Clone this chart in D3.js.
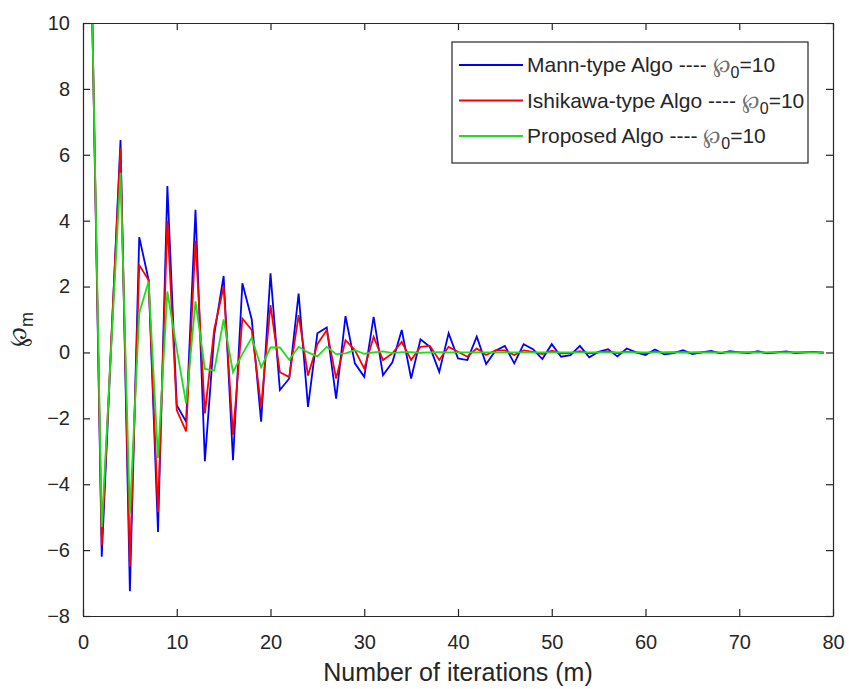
<!DOCTYPE html>
<html>
<head>
<meta charset="utf-8">
<script src="https://cdn.jsdelivr.net/npm/d3@7"></script>
<style>
    body { margin: 0; background: #ffffff; }
    svg text { font-family: Arial, "Liberation Sans", Helvetica, sans-serif; fill: #262626; }
</style>
</head>
<body>
<div id="chart"></div>
<script>

// iteration index m = 1 .. 79
var iterations = d3.range(1, 80);

var mannValues = [
    10, -6.2, 0.2, 6.45, -7.25, 3.5, 2.2, -5.45, 5.05, -1.6,
    -2.1, 4.33, -3.3, 0.55, 2.32, -3.27, 2.1, 1.0, -2.1, 2.4,
    -1.14, -0.79, 1.79, -1.65, 0.58, 0.76, -1.4, 1.1, -0.33, -0.74,
    1.08, -0.69, -0.3, 0.68, -0.79, 0.4, 0.17, -0.59, 0.58, -0.18,
    -0.23, 0.48, -0.35, 0.05, 0.2, -0.33, 0.25, 0.1, -0.2, 0.25,
    -0.13, -0.08, 0.2, -0.15, 0.02, 0.1, -0.12, 0.12, 0.0, -0.08,
    0.09, -0.06, -0.02, 0.07, -0.05, 0.0, 0.05, -0.03, 0.04, 0.0,
    -0.02, 0.04, -0.03, 0.0, 0.03, -0.02, 0.0, 0.02, -0.01
];

var ishikawaValues = [
    10, -5.85, 0.3, 6.2, -6.5, 2.65, 2.2, -4.85, 4.0, -1.75,
    -2.4, 3.4, -1.85, 0.7, 2.0, -2.5, 1.03, 0.68, -1.65, 1.44,
    -0.6, -0.75, 1.13, -0.7, 0.25, 0.68, -0.79, 0.37, 0.07, -0.49,
    0.48, -0.23, -0.03, 0.32, -0.23, 0.17, 0.2, -0.23, 0.17, 0.02,
    -0.13, 0.12, -0.08, 0.06, 0.06, -0.08, 0.06, 0.02, -0.05, 0.05,
    -0.03, -0.02, 0.04, -0.03, 0.0, 0.03, -0.02, 0.02, 0.0, -0.02,
    0.02, -0.01, 0.0, 0.01, -0.01, 0.0, 0.01, -0.01, 0.01, 0.0,
    0.0, 0.01, -0.01, 0.0, 0.0, 0.0, 0.0, 0.0, 0.0
];

var proposedValues = [
    10, -5.3, 0.1, 5.45, -4.9, 1.2, 2.15, -3.2, 1.85, 0.1,
    -1.55, 1.55, -0.5, -0.55, 1.0, -0.6, -0.05, 0.45, -0.45, 0.15,
    0.15, -0.22, 0.17, 0.0, -0.12, 0.17, -0.05, -0.03, 0.07, -0.04,
    0.0, 0.03, -0.02, 0.01, 0.01, -0.01, 0.0, 0.01, 0.0, 0.0,
    0.0, 0.0, 0.0, 0.0, 0.0, 0.0, 0.0, 0.0, 0.0, 0.0,
    0.0, 0.0, 0.0, 0.0, 0.0, 0.0, 0.0, 0.0, 0.0, 0.0,
    0.0, 0.0, 0.0, 0.0, 0.0, 0.0, 0.0, 0.0, 0.0, 0.0,
    0.0, 0.0, 0.0, 0.0, 0.0, 0.0, 0.0, 0.0, 0.0
];

var seriesNames = ['Mann-type Algo', 'Ishikawa-type Algo', 'Proposed Algo'];
var seriesColors = ['#0000ff', '#ff0000', '#1fdc1f'];

var xTicks = [0, 10, 20, 30, 40, 50, 60, 70, 80];
var yTicks = [-8, -6, -4, -2, 0, 2, 4, 6, 8, 10];

var width = 849;
var height = 689;
var margin = {top: 23, right: 16, bottom: 73, left: 83};
var axisColor = '#262626';

var svg = d3.select('#chart').append('svg')
    .attr('width', width)
    .attr('height', height);

var x = d3.scaleLinear().domain([0, 80]).range([margin.left, width - margin.right]);
var y = d3.scaleLinear().domain([-8, 10]).range([height - margin.bottom, margin.top]);

// series, drawn in plot order so green ends on top
var seriesValues = [mannValues, ishikawaValues, proposedValues];

var line = d3.line()
    .x(function(d) { return x(d.m); })
    .y(function(d) { return y(d.v); });

seriesValues.forEach(function(values, i) {
    var points = iterations.map(function(m, j) { return {m: m, v: values[j]}; });
    svg.append('path')
        .datum(points)
        .attr('fill', 'none')
        .attr('stroke', seriesColors[i])
        .attr('stroke-width', 1.8)
        .attr('stroke-linejoin', 'miter')
        .attr('d', line);
});

// axes, ticks pointing inward on every side
var tickLen = 7;

var bottomAxis = svg.append('g')
    .attr('transform', 'translate(0,' + y(-8) + ')')
    .call(d3.axisBottom(x).tickValues(xTicks).tickSizeInner(-tickLen).tickSizeOuter(0).tickPadding(19));

var topAxis = svg.append('g')
    .attr('transform', 'translate(0,' + y(10) + ')')
    .call(d3.axisTop(x).tickValues(xTicks).tickSizeInner(-tickLen).tickSizeOuter(0).tickFormat(''));

var leftAxis = svg.append('g')
    .attr('transform', 'translate(' + x(0) + ',0)')
    .call(d3.axisLeft(y).tickValues(yTicks).tickSizeInner(-tickLen).tickSizeOuter(0).tickPadding(13));

var rightAxis = svg.append('g')
    .attr('transform', 'translate(' + x(80) + ',0)')
    .call(d3.axisRight(y).tickValues(yTicks).tickSizeInner(-tickLen).tickSizeOuter(0).tickFormat(''));

[bottomAxis, topAxis, leftAxis, rightAxis].forEach(function(axis) {
    axis.selectAll('path, line').attr('stroke', axisColor).attr('stroke-width', 1.2);
    axis.selectAll('text')
        .attr('fill', axisColor)
        .style('font-size', '20px')
        .style('font-family', 'Arial, "Liberation Sans", sans-serif');
});

// axis titles
svg.append('text')
    .attr('x', (x(0) + x(80)) / 2)
    .attr('y', 681)
    .attr('text-anchor', 'middle')
    .style('font-size', '25px')
    .text('Number of iterations (m)');

var yTitle = svg.append('text')
    .attr('transform', 'translate(26,' + ((y(-8) + y(10)) / 2 + 10) + ') rotate(-90)')
    .attr('text-anchor', 'middle')
    .style('font-size', '24px');
yTitle.append('tspan').text('\u2118');
yTitle.append('tspan').attr('dy', 7).style('font-size', '18px').text('m');

// legend
var legend = svg.append('g').attr('transform', 'translate(452,42)');

legend.append('rect')
    .attr('width', 356)
    .attr('height', 121)
    .attr('fill', '#ffffff')
    .attr('stroke', axisColor)
    .attr('stroke-width', 1.2);

seriesNames.forEach(function(name, i) {
    var rowY = 23 + i * 35.5;
    legend.append('line')
        .attr('x1', 7)
        .attr('x2', 71)
        .attr('y1', rowY)
        .attr('y2', rowY)
        .attr('stroke', seriesColors[i])
        .attr('stroke-width', 1.8);

    var label = legend.append('text')
        .attr('x', 75)
        .attr('y', rowY + 7)
        .style('font-size', '21px');
    label.append('tspan').text(name + ' ---- ');
    label.append('tspan').style('fill', '#707070').text('\u2118');
    label.append('tspan').attr('dy', 6).style('font-size', '16px').text('0');
    label.append('tspan').attr('dy', -6).text('=10');
});

</script>
</body>
</html>
